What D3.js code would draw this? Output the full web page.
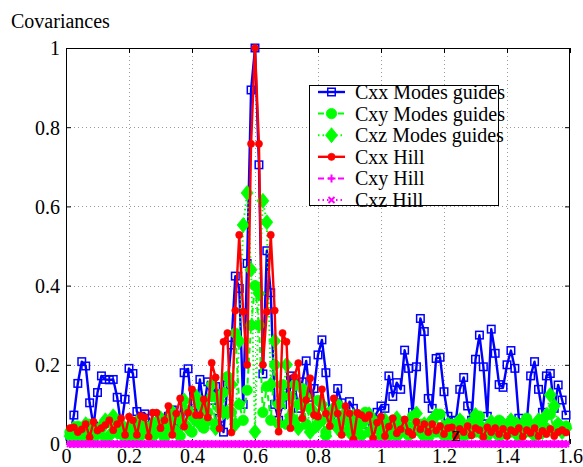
<!DOCTYPE html>
<html>
<head>
<meta charset="utf-8">
<script src="https://cdn.jsdelivr.net/npm/d3@7/dist/d3.min.js"></script>
<style>
  html, body { margin: 0; padding: 0; background: #fff; }
</style>
</head>
<body>
<svg id="chart" width="583" height="467"></svg>
<script>
// Sampling step along z (first sample at z = step)
const zStep = 0.0125;
const serifFont = "'Liberation Serif', 'Times New Roman', Times, 'DejaVu Serif', serif";

const xTicks = [0, 0.2, 0.4, 0.6, 0.8, 1, 1.2, 1.4, 1.6];
const yTicks = [0, 0.2, 0.4, 0.6, 0.8, 1];
const xTickLabels = ["0", "0.2", "0.4", "0.6", "0.8", "1", "1.2", "1.4", "1.6"];
const yTickLabels = ["0", "0.2", "0.4", "0.6", "0.8", "1"];

const seriesNames = ["Cxx Modes guides", "Cxy Modes guides", "Cxz Modes guides", "Cxx Hill", "Cxy Hill", "Cxz Hill"];

// Cxx, modes guides
const cxxModes = [
  0.02, 0.073, 0.153, 0.208, 0.197, 0.104, 0.045, 0.13, 0.172, 0.163,
  0.162, 0.163, 0.118, 0.045, 0.113, 0.191, 0.178, 0.082, 0.07, 0.076,
  0.065, 0.05, 0.07, 0.065, 0.055, 0.07, 0.086, 0.035, 0.07, 0.18,
  0.19, 0.077, 0.07, 0.163, 0.09, 0.157, 0.11, 0.145, 0.065, 0.03,
  0.15, 0.25, 0.424, 0.393, 0.1, 0.456, 0.894, 1.0, 0.705, 0.177,
  0.488, 0.382, 0.1, 0.06, 0.1, 0.13, 0.172, 0.152, 0.09, 0.157,
  0.21, 0.118, 0.14, 0.225, 0.263, 0.18, 0.08, 0.06, 0.14, 0.104,
  0.06, 0.107, 0.09, 0.05, 0.06, 0.05, 0.07, 0.06, 0.08, 0.096,
  0.09, 0.172, 0.12, 0.155, 0.138, 0.237, 0.191, 0.08, 0.195, 0.317,
  0.284, 0.115, 0.09, 0.216, 0.219, 0.132, 0.07, 0.06, 0.059, 0.138,
  0.168, 0.096, 0.06, 0.214, 0.275, 0.195, 0.07, 0.29, 0.229, 0.15,
  0.143, 0.2, 0.236, 0.191, 0.065, 0.052, 0.054, 0.172, 0.208, 0.138,
  0.08, 0.172, 0.178, 0.09, 0.149, 0.111, 0.073
];

// Cxy, modes guides
const cxyModes = [
  0.03, 0.02, 0.045, 0.015, 0.03, 0.05, 0.02, 0.035, 0.04, 0.015,
  0.055, 0.03, 0.06, 0.025, 0.04, 0.02, 0.035, 0.015, 0.05, 0.03,
  0.04, 0.02, 0.055, 0.03, 0.015, 0.06, 0.035, 0.07, 0.02, 0.05,
  0.085, 0.03, 0.06, 0.1, 0.04, 0.08, 0.12, 0.05, 0.09, 0.13,
  0.17, 0.08, 0.28, 0.1, 0.06, 0.136, 0.3, 0.4, 0.3, 0.08,
  0.145, 0.06, 0.2, 0.1, 0.15, 0.05, 0.12, 0.06, 0.1, 0.14,
  0.05, 0.09, 0.04, 0.11, 0.06, 0.03, 0.08, 0.05, 0.1, 0.03,
  0.06, 0.04, 0.07, 0.025, 0.05, 0.08, 0.03, 0.06, 0.04, 0.02,
  0.05, 0.03, 0.06, 0.02, 0.04, 0.055, 0.025, 0.07, 0.035, 0.05,
  0.02, 0.04, 0.06, 0.03, 0.075, 0.045, 0.02, 0.05, 0.03, 0.06,
  0.04, 0.025, 0.055, 0.03, 0.07, 0.04, 0.02, 0.05, 0.035, 0.06,
  0.025, 0.045, 0.03, 0.055, 0.02, 0.04, 0.065, 0.03, 0.05, 0.025,
  0.06, 0.04, 0.075, 0.03, 0.05, 0.035, 0.045
];

// Cxz, modes guides
const cxzModes = [
  0.02, 0.04, 0.01, 0.03, 0.05, 0.015, 0.035, 0.025, 0.045, 0.06,
  0.02, 0.07, 0.03, 0.05, 0.015, 0.04, 0.03, 0.055, 0.02, 0.045,
  0.025, 0.05, 0.03, 0.065, 0.02, 0.045, 0.08, 0.03, 0.06, 0.11,
  0.04, 0.07, 0.12, 0.05, 0.1, 0.06, 0.15, 0.04, 0.11, 0.08,
  0.08, 0.15, 0.05, 0.26, 0.553, 0.634, 0.44, 0.031, 0.38, 0.614,
  0.56, 0.15, 0.26, 0.05, 0.12, 0.2, 0.07, 0.15, 0.04, 0.1,
  0.12, 0.03, 0.08, 0.05, 0.1, 0.02, 0.07, 0.09, 0.04, 0.06,
  0.08, 0.03, 0.07, 0.05, 0.02, 0.06, 0.075, 0.04, 0.05, 0.03,
  0.06, 0.02, 0.04, 0.065, 0.03, 0.05, 0.02, 0.04, 0.077, 0.03,
  0.05, 0.015, 0.06, 0.073, 0.035, 0.02, 0.05, 0.04, 0.03, 0.06,
  0.02, 0.045, 0.03, 0.073, 0.05, 0.02, 0.04, 0.056, 0.03, 0.02,
  0.05, 0.04, 0.06, 0.03, 0.02, 0.05, 0.035, 0.045, 0.02, 0.06,
  0.03, 0.073, 0.124, 0.096, 0.05, 0.03, 0.04
];

// Cxx, Hill
const cxxHill = [
  0.04, 0.042, 0.03, 0.037, 0.05, 0.017, 0.056, 0.034, 0.04, 0.048,
  0.06, 0.035, 0.05, 0.065, 0.023, 0.069, 0.06, 0.023, 0.071, 0.067,
  0.018, 0.079, 0.079, 0.04, 0.06, 0.096, 0.023, 0.077, 0.115, 0.044,
  0.079, 0.138, 0.073, 0.073, 0.113, 0.067, 0.205, 0.168, 0.039, 0.258,
  0.28, 0.029, 0.337, 0.528, 0.334, 0.2, 0.758, 1.0, 0.758, 0.2,
  0.334, 0.528, 0.337, 0.031, 0.28, 0.258, 0.04, 0.17, 0.204, 0.065,
  0.111, 0.166, 0.073, 0.069, 0.138, 0.077, 0.045, 0.115, 0.077, 0.023,
  0.096, 0.077, 0.012, 0.079, 0.073, 0.065, 0.073, 0.014, 0.054, 0.069,
  0.02, 0.044, 0.065, 0.027, 0.037, 0.062, 0.031, 0.023, 0.056, 0.037,
  0.05, 0.03, 0.05, 0.034, 0.045, 0.025, 0.04, 0.042, 0.02, 0.038,
  0.03, 0.045, 0.022, 0.04, 0.035, 0.018, 0.042, 0.03, 0.04, 0.025,
  0.038, 0.02, 0.035, 0.03, 0.04, 0.018, 0.035, 0.028, 0.04, 0.02,
  0.033, 0.025, 0.038, 0.02, 0.03, 0.035, 0.029
];

// Cxy, Hill (identically zero)
const cxyHill = [
  0, 0, 0, 0, 0, 0, 0, 0, 0, 0, 0, 0, 0, 0, 0, 0, 0, 0, 0, 0,
  0, 0, 0, 0, 0, 0, 0, 0, 0, 0, 0, 0, 0, 0, 0, 0, 0, 0, 0, 0,
  0, 0, 0, 0, 0, 0, 0, 0, 0, 0, 0, 0, 0, 0, 0, 0, 0, 0, 0, 0,
  0, 0, 0, 0, 0, 0, 0, 0, 0, 0, 0, 0, 0, 0, 0, 0, 0, 0, 0, 0,
  0, 0, 0, 0, 0, 0, 0, 0, 0, 0, 0, 0, 0, 0, 0, 0, 0, 0, 0, 0,
  0, 0, 0, 0, 0, 0, 0, 0, 0, 0, 0, 0, 0, 0, 0, 0, 0, 0, 0, 0,
  0, 0, 0, 0, 0, 0, 0
];

// Cxz, Hill (identically zero)
const cxzHill = [
  0, 0, 0, 0, 0, 0, 0, 0, 0, 0, 0, 0, 0, 0, 0, 0, 0, 0, 0, 0,
  0, 0, 0, 0, 0, 0, 0, 0, 0, 0, 0, 0, 0, 0, 0, 0, 0, 0, 0, 0,
  0, 0, 0, 0, 0, 0, 0, 0, 0, 0, 0, 0, 0, 0, 0, 0, 0, 0, 0, 0,
  0, 0, 0, 0, 0, 0, 0, 0, 0, 0, 0, 0, 0, 0, 0, 0, 0, 0, 0, 0,
  0, 0, 0, 0, 0, 0, 0, 0, 0, 0, 0, 0, 0, 0, 0, 0, 0, 0, 0, 0,
  0, 0, 0, 0, 0, 0, 0, 0, 0, 0, 0, 0, 0, 0, 0, 0, 0, 0, 0, 0,
  0, 0, 0, 0, 0, 0, 0
];

const svg = d3.select("#chart");
const plotL = 66, plotR = 570, plotT = 48, plotB = 444;

const x = d3.scaleLinear().domain([0, 1.6]).range([plotL, plotR]);
const y = d3.scaleLinear().domain([0, 1]).range([plotB, plotT]);

// dotted grid
const grid = svg.append("g").attr("stroke", "#9a9a9a").attr("stroke-width", 1)
  .attr("stroke-dasharray", "1,3");
grid.selectAll("line.gx").data(xTicks.slice(1, -1)).join("line")
  .attr("x1", d => Math.round(x(d)) + 0.5).attr("x2", d => Math.round(x(d)) + 0.5)
  .attr("y1", plotT).attr("y2", plotB);
grid.selectAll("line.gy").data(yTicks.slice(1, -1)).join("line")
  .attr("y1", d => Math.round(y(d)) + 0.5).attr("y2", d => Math.round(y(d)) + 0.5)
  .attr("x1", plotL).attr("x2", plotR);

// axes with inward ticks on all four sides
const fmtX = (d, i) => xTickLabels[i];
const fmtY = (d, i) => yTickLabels[i];
const axB = svg.append("g").attr("transform", `translate(0,${plotB})`)
  .call(d3.axisBottom(x).tickValues(xTicks).tickFormat(fmtX).tickSizeInner(-5).tickSizeOuter(0).tickPadding(0));
const axT = svg.append("g").attr("transform", `translate(0,${plotT})`)
  .call(d3.axisTop(x).tickValues(xTicks).tickFormat("").tickSizeInner(-5).tickSizeOuter(0));
const axL = svg.append("g").attr("transform", `translate(${plotL},0)`)
  .call(d3.axisLeft(y).tickValues(yTicks).tickFormat(fmtY).tickSizeInner(-5).tickSizeOuter(0).tickPadding(6));
const axR = svg.append("g").attr("transform", `translate(${plotR},0)`)
  .call(d3.axisRight(y).tickValues(yTicks).tickFormat("").tickSizeInner(-5).tickSizeOuter(0));
[axB, axT, axL, axR].forEach(a => {
  a.attr("font-family", serifFont).attr("font-size", 20);
  a.select(".domain").remove();
  a.selectAll(".tick line").attr("stroke", "#000");
  a.selectAll("text").attr("fill", "#000");
});
axB.selectAll("text").attr("dy", null).attr("y", 18.5);
axL.selectAll("text").attr("dy", "0.34em");

// frame
svg.append("rect").attr("x", plotL + 0.5).attr("y", plotT + 0.5)
  .attr("width", plotR - plotL - 1).attr("height", plotB - plotT - 1)
  .attr("fill", "none").attr("stroke", "#000").attr("stroke-width", 1);

// y label
svg.append("text").attr("x", 11).attr("y", 28)
  .attr("font-family", serifFont).attr("font-size", 20).text("Covariances");

// symbol builders
const sym = {
  square: (g, c) => g.append("rect").attr("x", -3.75).attr("y", -3.75).attr("width", 7.5).attr("height", 7.5)
    .attr("fill", "none").attr("stroke", c).attr("stroke-width", 1.5),
  bigCircle: (g, c) => g.append("circle").attr("r", 5.2).attr("fill", c).attr("stroke", c).attr("stroke-width", 0.8),
  diamond: (g, c) => g.append("path").attr("d", "M0,-7.5L6,0L0,7.5L-6,0Z").attr("fill", c).attr("stroke", c).attr("stroke-width", 0.8),
  dot: (g, c) => g.append("circle").attr("r", 3.6).attr("fill", c).attr("stroke", c).attr("stroke-width", 0.6),
  plus: (g, c) => g.append("path").attr("d", "M-4,0H4M0,-4V4").attr("stroke", c).attr("stroke-width", 2),
  cross: (g, c) => g.append("path").attr("d", "M-3,-3L3,3M-3,3L3,-3").attr("stroke", c).attr("stroke-width", 2)
};

const series = [
  { name: seriesNames[0], values: cxxModes, color: "#0000ff", width: 2.4, dash: null, marker: "square" },
  { name: seriesNames[1], values: cxyModes, color: "#00ff00", width: 2, dash: "6,4", marker: "bigCircle" },
  { name: seriesNames[2], values: cxzModes, color: "#00ff00", width: 2, dash: "1.5,3", marker: "diamond" },
  { name: seriesNames[3], values: cxxHill, color: "#ff0000", width: 2.4, dash: null, marker: "dot" },
  { name: seriesNames[4], values: cxyHill, color: "#ff00ff", width: 2, dash: "6,4", marker: "plus" },
  { name: seriesNames[5], values: cxzHill, color: "#ff00ff", width: 2, dash: "1.5,3", marker: "cross" }
];

const line = d3.line().x((d, i) => x((i + 1) * zStep)).y(d => y(d));

series.forEach(s => {
  const g = svg.append("g");
  g.append("path").attr("d", line(s.values)).attr("fill", "none")
    .attr("stroke", s.color).attr("stroke-width", s.width)
    .attr("stroke-dasharray", s.dash).attr("stroke-linejoin", "round");
  g.selectAll("g.m").data(s.values).join("g")
    .attr("transform", (d, i) => `translate(${x((i + 1) * zStep)},${y(d)})`)
    .each(function () { sym[s.marker](d3.select(this), s.color); });
});

// z label inside the axes
svg.append("text").attr("x", 456).attr("y", 441).attr("text-anchor", "middle")
  .attr("font-family", serifFont).attr("font-size", 20).text("z");

// legend
const lg = svg.append("g");
lg.append("rect").attr("x", 309.5).attr("y", 85.5).attr("width", 189).attr("height", 120)
  .attr("fill", "#fff").attr("stroke", "#000").attr("stroke-width", 1);
series.forEach((s, k) => {
  const cy = 92 + k * 21.6;
  const row = lg.append("g");
  row.append("line").attr("x1", 318).attr("x2", 345).attr("y1", cy).attr("y2", cy)
    .attr("stroke", s.color).attr("stroke-width", s.width).attr("stroke-dasharray", s.dash);
  sym[s.marker](row.append("g").attr("transform", `translate(331.5,${cy})`), s.color);
  row.append("text").attr("x", 355).attr("y", cy + 7)
    .attr("font-family", serifFont).attr("font-size", 20).text(s.name);
});
</script>
</body>
</html>
